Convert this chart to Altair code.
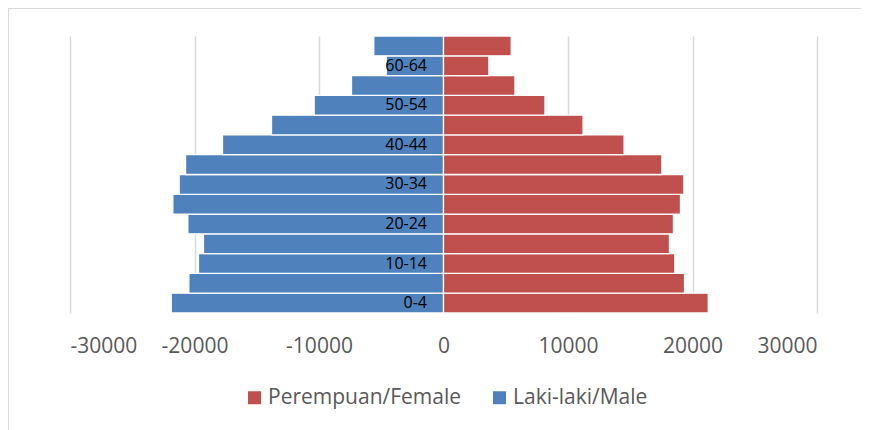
import altair as alt
import pandas as pd

age_groups = ["0-4", "5-9", "10-14", "15-19", "20-24", "25-29", "30-34",
              "35-39", "40-44", "45-49", "50-54", "55-59", "60-64", "65+"]
male = [21870, 20455, 19680, 19280, 20535, 21740, 21230,
        20720, 17750, 13815, 10390, 7390, 4600, 5600]
female = [21265, 19360, 18580, 18150, 18470, 19035, 19310,
          17540, 14505, 11210, 8150, 5740, 3645, 5440]
shown_labels = ["0-4", "10-14", "20-24", "30-34", "40-44", "50-54", "60-64"]
x_ticks = [-30000, -20000, -10000, 0, 10000, 20000, 30000]
series_names = ["Perempuan/Female", "Laki-laki/Male"]
series_colors = ["#C0504D", "#4F81BD"]
title_text = "Regency), 2018"

rows = []
for a, m in zip(age_groups, male):
    rows.append({"age": a, "sex": series_names[1], "value": -m})
for a, f in zip(age_groups, female):
    rows.append({"age": a, "sex": series_names[0], "value": f})
df = pd.DataFrame(rows)

FONT = "Open Sans"

bars = alt.Chart(df).mark_bar(stroke="white", strokeWidth=1.3).encode(
    y=alt.Y("age:N", sort=list(reversed(age_groups)),
            scale=alt.Scale(paddingInner=0, paddingOuter=0),
            axis=alt.Axis(title=None, values=shown_labels, domain=False, ticks=False,
                          tickSize=0, grid=False, labelFontSize=16, labelFont=FONT,
                          labelColor="#000000", labelPadding=17, offset=-373.5,
                          zindex=1)),
    x=alt.X("value:Q", scale=alt.Scale(domain=[-30000, 30000], nice=False),
            axis=alt.Axis(title=None, values=x_ticks, domain=False, ticks=False,
                          tickSize=0, grid=True, gridColor="#D9D9D9", gridWidth=1.5,
                          labelFontSize=21, labelFont=FONT, labelColor="#595959",
                          labelPadding=22, labelExpr="'' + datum.value")),
    color=alt.Color("sex:N", scale=alt.Scale(domain=series_names, range=series_colors),
                    legend=alt.Legend(title=None, orient="none", direction="horizontal",
                                      legendX=174, legendY=351, padding=0,
                                      symbolType="square", symbolSize=169,
                                      symbolStrokeWidth=0, labelFontSize=21,
                                      labelFont=FONT, labelColor="#595959",
                                      labelOffset=3, columnPadding=27, labelLimit=1000)),
    order=alt.Order("sex:N"),
)

frame_top = alt.Chart(df).mark_rule(color="#D9D9D9", strokeWidth=1).encode(
    x=alt.value(-61.5), x2=alt.value(791), y=alt.value(-27.5))
frame_left = alt.Chart(df).mark_rule(color="#D9D9D9", strokeWidth=1).encode(
    x=alt.value(-61.5), y=alt.value(-27.5), y2=alt.value(394))

chart = alt.layer(frame_top, frame_left, bars).properties(
    width=747, height=277,
    autosize=alt.AutoSizeParams(type="none"),
    padding={"left": 62, "top": 28, "right": 44, "bottom": 117},
    title=alt.TitleParams(title_text, anchor="start", dx=125, offset=25,
                          fontSize=18, font=FONT, fontWeight="bold", color="#000000"),
).configure(background="white").configure_view(strokeWidth=0)

chart.save("out.html", embed_options={"renderer": "svg", "actions": False})
